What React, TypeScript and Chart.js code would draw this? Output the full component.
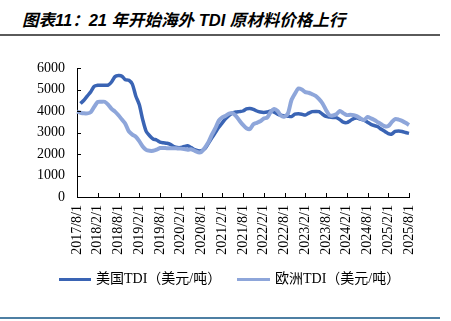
import React, { useEffect, useRef } from "react";
import { Chart, registerables } from "chart.js";

Chart.register(...registerables);

const TITLE = "图表11：21 年开始海外 TDI 原材料价格上行";
const SERIES_US = "美国TDI（美元/吨）";
const SERIES_EU = "欧洲TDI（美元/吨）";

// Monthly categories, 2017/8/1 .. 2025/8/1
const START_YEAR = 2017;
const START_MONTH = 8;
const MONTH_COUNT = 97;
const MONTHS: string[] = [];
for (let i = 0; i < MONTH_COUNT; i++) {
  const t = START_MONTH - 1 + i;
  MONTHS.push(`${START_YEAR + Math.floor(t / 12)}/${(t % 12) + 1}/1`);
}

const Y_TICKS = [0, 1000, 2000, 3000, 4000, 5000, 6000];

const US_TDI: (number | null)[] = [
  null, 4350, 4500, 4700, 4900, 5150, 5200, 5200, 5200, 5200,
  5350, 5600, 5650, 5620, 5450, 5430, 5250, 4700, 4300, 3600,
  3050, 2850, 2700, 2650, 2550, 2520, 2500, 2450, 2350, 2300,
  2300, 2350, 2380, 2300, 2200, 2150, 2150, 2250, 2500, 2750,
  3000, 3250, 3450, 3650, 3800, 3900, 3950, 3970, 4000, 4100,
  4120, 4080, 4000, 3950, 3930, 3950, 4000, 3950, 3850, 3800,
  3780, 3760, 3740, 3850, 3870, 3850, 3810, 3900, 3970, 3980,
  3970, 3850, 3750, 3720, 3700, 3690, 3600, 3480, 3460, 3550,
  3650, 3670, 3620, 3580, 3480, 3380, 3320, 3270, 3150, 3050,
  2950, 2930, 3050, 3070, 3050, 3000, 2960,
];

const EU_TDI: (number | null)[] = [
  3970, 3920, 3890, 3890, 3950, 4200, 4420, 4430, 4430, 4300,
  4100, 3970, 3800, 3600, 3400, 3050, 2900, 2800, 2600, 2350,
  2190, 2150, 2150, 2200, 2280, 2280, 2270, 2270, 2270, 2260,
  2250, 2230, 2200, 2220, 2150, 2080, 2100, 2300, 2550, 2900,
  3200, 3550, 3700, 3780, 3880, 3900, 3760, 3550, 3350, 3200,
  3160, 3380, 3450, 3520, 3650, 3700, 3950, 4090, 4000, 3780,
  3740, 3890, 4500, 4800, 5050, 5000, 4880, 4850, 4780, 4700,
  4550, 4350, 4050, 3800, 3790, 3850, 4000, 3900, 3810, 3820,
  3810, 3750, 3650, 3580, 3720, 3660, 3580, 3480, 3380, 3290,
  3300, 3480, 3620, 3600, 3540, 3450, 3350,
];

const COLOR_US = "#3A64B4";
const COLOR_EU = "#8EA6DA";
const SERIF = '"Times New Roman", "Liberation Serif", "Noto Sans CJK SC", serif';

const innerTicks = {
  id: "innerTicks",
  afterDraw(chart: any) {
    const { ctx, chartArea } = chart;
    const xs = chart.scales.x;
    const ys = chart.scales.y;
    ctx.save();
    ctx.strokeStyle = "#000";
    ctx.lineWidth = 1;
    ctx.beginPath();
    for (let i = 0; i < MONTHS.length; i += 6) {
      const px = Math.round(xs.getPixelForValue(i)) + 0.5;
      ctx.moveTo(px, chartArea.bottom);
      ctx.lineTo(px, chartArea.bottom - 4);
    }
    for (const v of Y_TICKS) {
      const py = Math.round(ys.getPixelForValue(v)) + 0.5;
      ctx.moveTo(chartArea.left, py);
      ctx.lineTo(chartArea.left + 4, py);
    }
    ctx.stroke();
    ctx.restore();
  },
};

function LegendItem({ left, lineWidth, color, text }: { left: number; lineWidth: number; color: string; text: string }) {
  return (
    <div style={{ position: "absolute", left, top: 270, height: 18, display: "flex", alignItems: "center", whiteSpace: "nowrap" }}>
      <div style={{ width: lineWidth, height: 3, background: color, marginRight: 5 }} />
      <span style={{ fontFamily: SERIF, fontSize: 14, lineHeight: "18px", color: "#000" }}>{text}</span>
    </div>
  );
}

export default function App() {
  const ref = useRef<HTMLCanvasElement | null>(null);

  useEffect(() => {
    if (!ref.current) return;
    const chart = new Chart(ref.current, {
      type: "line",
      data: {
        labels: MONTHS,
        datasets: [
          {
            label: SERIES_US,
            data: US_TDI,
            borderColor: COLOR_US,
            backgroundColor: COLOR_US,
            borderWidth: 3.5,
            pointRadius: 0,
            tension: 0.25,
            order: 1,
          },
          {
            label: SERIES_EU,
            data: EU_TDI,
            borderColor: COLOR_EU,
            backgroundColor: COLOR_EU,
            borderWidth: 4,
            pointRadius: 0,
            tension: 0.25,
            order: 0,
          },
        ],
      },
      options: {
        animation: false,
        responsive: false,
        maintainAspectRatio: false,
        layout: { padding: { left: 0, right: 42, top: 68, bottom: 59 } },
        plugins: {
          title: { display: false },
          tooltip: { enabled: false },
          legend: { display: false },
        },
        scales: {
          x: {
            type: "category",
            grid: { display: false, drawTicks: false },
            border: { display: true, color: "#000", width: 1 },
            ticks: {
              autoSkip: false,
              maxRotation: 90,
              minRotation: 90,
              padding: 8,
              color: "#000",
              font: { family: SERIF, size: 14 },
              callback: function (this: any, value: any, index: number) {
                return index % 6 === 0 ? MONTHS[index] : null;
              },
            },
            afterFit(scale: any) {
              scale.height = 65;
            },
          },
          y: {
            min: 0,
            max: 6000,
            grid: { display: false, drawTicks: false },
            border: { display: true, color: "#000", width: 1 },
            ticks: {
              stepSize: 1000,
              padding: 12,
              color: "#000",
              font: { family: SERIF, size: 14 },
              callback: (value: any) => String(value),
            },
            afterFit(scale: any) {
              scale.width = 77;
            },
          },
        },
      },
      plugins: [innerTicks],
    });
    return () => chart.destroy();
  }, []);

  return (
    <div style={{ position: "fixed", left: 0, top: 0, width: 451, height: 321, background: "#fff", overflow: "hidden" }}>
      <div
        style={{
          position: "absolute",
          left: 22,
          top: 11,
          fontFamily: '"Liberation Sans", Arial, "Noto Sans CJK SC", sans-serif',
          fontWeight: "bold",
          fontStyle: "italic",
          fontSize: 16.5,
          lineHeight: "18px",
          whiteSpace: "nowrap",
          color: "#000",
        }}
      >
        {TITLE}
      </div>
      <div style={{ position: "absolute", left: 0, top: 34, width: 440, height: 2, background: "#5a5a5a" }} />
      <canvas ref={ref} width={451} height={321} style={{ position: "absolute", left: 0, top: 0, width: 451, height: 321 }} />
      <LegendItem left={59} lineWidth={32} color={COLOR_US} text={SERIES_US} />
      <LegendItem left={237} lineWidth={33} color={COLOR_EU} text={SERIES_EU} />
      <div style={{ position: "absolute", left: 0, top: 317, width: 440, height: 2, background: "#4d7fa3" }} />
    </div>
  );
}
